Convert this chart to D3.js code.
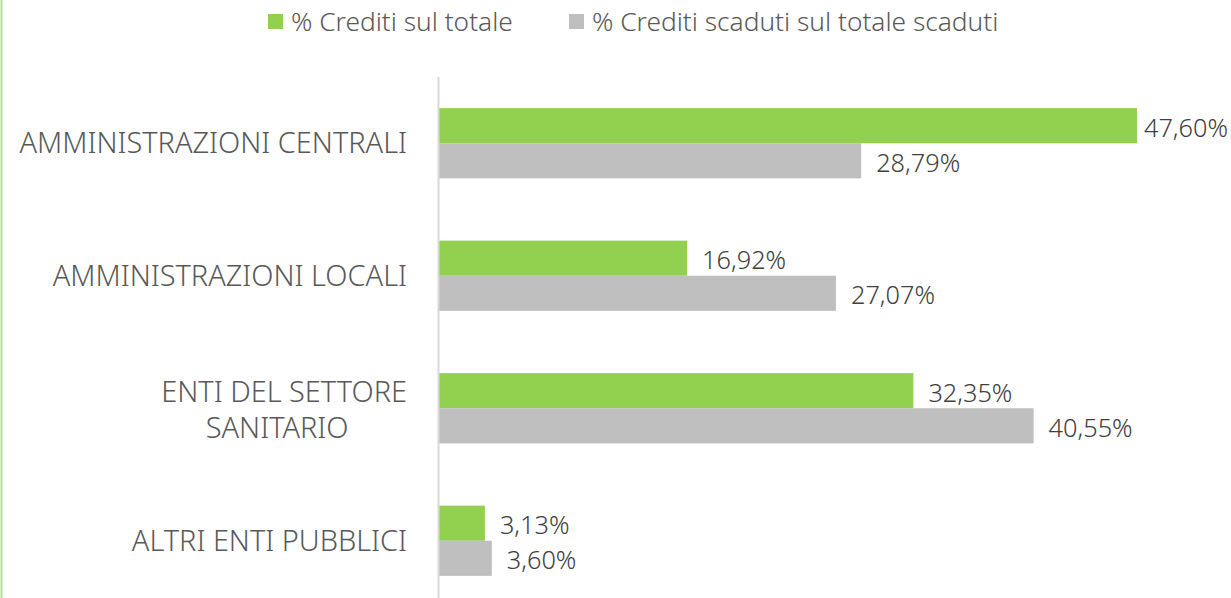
<!DOCTYPE html>
<html>
<head>
<meta charset="utf-8">
<script src="https://cdn.jsdelivr.net/npm/d3@7"></script>
<style>
  body { margin: 0; background: #fff; }
  text { font-family: "Noto Sans", "Open Sans", sans-serif; font-weight: 300; }
</style>
</head>
<body>
<div id="chart"></div>
<script>
// DATA
var categories = [
  ["AMMINISTRAZIONI CENTRALI"],
  ["AMMINISTRAZIONI LOCALI"],
  ["ENTI DEL SETTORE", "SANITARIO"],
  ["ALTRI ENTI PUBBLICI"]
];
var seriesNames = ["% Crediti sul totale", "% Crediti scaduti sul totale scaduti"];
var crediti = [47.60, 16.92, 32.35, 3.13];
var scaduti = [28.79, 27.07, 40.55, 3.60];
var colors = ["#92d050", "#bfbfbf"];

var width = 1231, height = 598;

var svg = d3.select("#chart").append("svg")
  .attr("width", width)
  .attr("height", height);

// green frame line on the left
svg.append("line")
  .attr("x1", 1.5).attr("x2", 1.5)
  .attr("y1", 0).attr("y2", height)
  .attr("stroke", "#b4df8c")
  .attr("stroke-width", 2);

var x0 = 439;
var xScale = d3.scaleLinear().domain([0, 47.60]).range([x0, 1137]);
var yScale = d3.scaleBand()
  .domain(d3.range(categories.length))
  .range([77, 607])
  .paddingInner(0.47)
  .paddingOuter(0.235);
var sub = d3.scaleBand().domain([0, 1]).range([0, yScale.bandwidth()]);

var fmt = function (v) { return v.toFixed(2).replace(".", ",") + "%"; };

var rows = [];
categories.forEach(function (c, i) {
  rows.push({ cat: i, s: 0, v: crediti[i] });
  rows.push({ cat: i, s: 1, v: scaduti[i] });
});

var g = svg.append("g");

g.selectAll("rect.bar")
  .data(rows)
  .enter()
  .append("rect")
  .attr("class", "bar")
  .attr("x", x0)
  .attr("y", function (d) { return yScale(d.cat) + sub(d.s); })
  .attr("width", function (d) { return xScale(d.v) - x0; })
  .attr("height", sub.bandwidth())
  .attr("fill", function (d) { return colors[d.s]; });

g.selectAll("text.val")
  .data(rows)
  .enter()
  .append("text")
  .attr("class", "val")
  .attr("y", function (d) { return yScale(d.cat) + sub(d.s) + sub.bandwidth() / 2 + 2; })
  .attr("dy", "0.35em")
  .attr("font-size", 25.3)
  .attr("fill", "#404040")
  .text(function (d) { return fmt(d.v); })
  .attr("x", function (d) {
    // keep labels inside the picture, like Excel does
    var w = this.getComputedTextLength();
    return Math.min(xScale(d.v) + 15, width - 3 - w);
  });

// axis line
svg.append("line")
  .attr("x1", x0 - 0.5).attr("x2", x0 - 0.5)
  .attr("y1", 77).attr("y2", height)
  .attr("stroke", "#d9d9d9")
  .attr("stroke-width", 2);

// category labels
categories.forEach(function (lines, i) {
  var cy = yScale(i) + yScale.bandwidth() / 2;
  var t = svg.append("text")
    .attr("text-anchor", "end")
    .attr("font-size", 28.9)
    .attr("fill", "#595959");
  var lh = 36;
  var top = cy - (lines.length - 1) * lh / 2 + (lines.length - 1) * 2;
  lines.forEach(function (l, j) {
    t.append("tspan")
      .attr("x", 407)
      .attr("y", top + j * lh)
      .attr("dy", "0.35em")
      .text(l);
  });
  if (lines.length > 1) {
    var w0 = t.select("tspan").node().getComputedTextLength();
    t.selectAll("tspan").filter(function (d, j) { return j > 0; })
      .attr("text-anchor", "middle")
      .attr("x", 407 - w0 / 2 - 7);
  }
});

// legend
var legendX = [268, 569];
seriesNames.forEach(function (n, i) {
  svg.append("rect")
    .attr("x", legendX[i]).attr("y", 14)
    .attr("width", 15).attr("height", 15)
    .attr("fill", colors[i]);
  svg.append("text")
    .attr("x", legendX[i] + 23)
    .attr("y", 22)
    .attr("dy", "0.35em")
    .attr("font-size", 26.3)
    .attr("fill", "#595959")
    .text(n);
});
</script>
</body>
</html>
